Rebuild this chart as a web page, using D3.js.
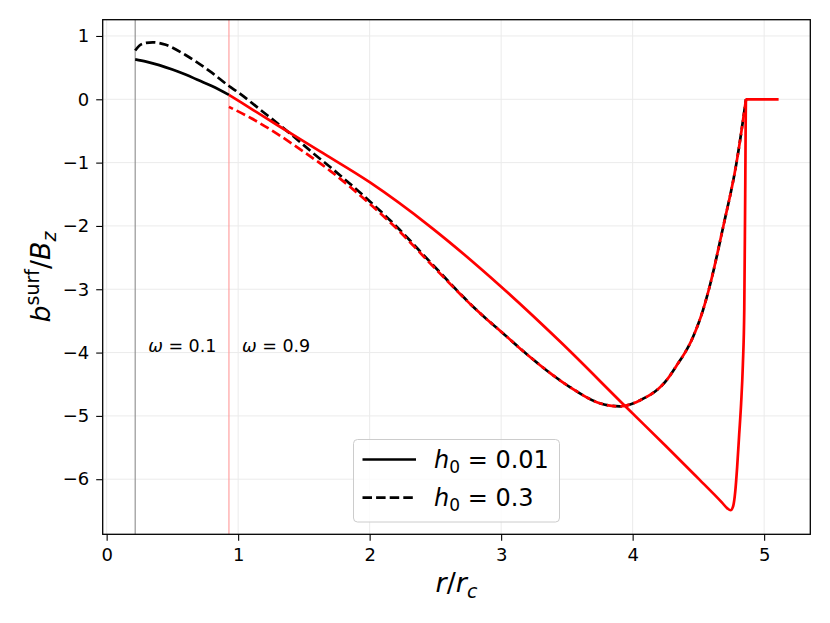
<!DOCTYPE html>
<html>
<head>
<meta charset="utf-8">
<script src="https://cdn.jsdelivr.net/npm/d3@7"></script>
<style>
  body { margin: 0; background: #fff; }
  text { font-family: "DejaVu Sans", sans-serif; }
</style>
</head>
<body>
<svg id="chart"></svg>
<script>
// b^surf / B_z against r / r_c
const blackSolid = [ // omega = 0.1, h0 = 0.01
  [0.217, 0.63], [0.3, 0.595], [0.4, 0.54], [0.5, 0.47], [0.6, 0.39],
  [0.7, 0.30], [0.8, 0.21], [0.93, 0.07]
];
const blackDashed = [ // omega = 0.1, h0 = 0.3
  [0.217, 0.77], [0.25, 0.85], [0.3, 0.89], [0.35, 0.90], [0.45, 0.86],
  [0.6, 0.70], [0.8, 0.42], [0.93, 0.21], [1.0, 0.11], [1.19, -0.20],
  [1.4, -0.55], [1.57, -0.85], [1.7, -1.07], [2.0, -1.61], [2.2, -2.0],
  [2.46, -2.57], [2.84, -3.38], [3.0, -3.67], [3.22, -4.07], [3.52, -4.54],
  [3.75, -4.80], [3.9, -4.85], [4.05, -4.76], [4.26, -4.43], [4.33, -4.22],
  [4.46, -3.75], [4.535, -3.33], [4.58, -3.0], [4.69, -2.0], [4.79, -1.0],
  [4.862, 0]
];
const redSolid = [ // omega = 0.9, h0 = 0.01
  [0.93, 0.07], [1.115, -0.17], [1.3, -0.41], [1.62, -0.82], [2.0, -1.31],
  [2.46, -2.01], [3.0, -2.96], [3.45, -3.83], [3.95, -4.86], [4.26, -5.49],
  [4.51, -6.01], [4.62, -6.24], [4.68, -6.37], [4.72, -6.46], [4.745, -6.49],
  [4.765, -6.42], [4.78, -6.2], [4.795, -5.8], [4.81, -5.3], [4.825, -4.8],
  [4.838, -4.2], [4.849, -3.3], [4.856, -1.5], [4.862, 0], [5.11, 0]
];
const redDashed = [ // omega = 0.9, h0 = 0.3
  [0.93, -0.12], [1.1, -0.30], [1.3, -0.55], [1.5, -0.83], [1.7, -1.13],
  [2.0, -1.65], [2.2, -2.03], [2.46, -2.59], [2.84, -3.38], [3.0, -3.67],
  [3.22, -4.07], [3.52, -4.54], [3.75, -4.80], [3.9, -4.85], [4.05, -4.76],
  [4.26, -4.43], [4.33, -4.22], [4.46, -3.75], [4.535, -3.33], [4.58, -3.0],
  [4.69, -2.0], [4.79, -1.0], [4.862, 0]
];
const omegaLines = [0.217, 0.93];
const omegaLabels = ['0.1', '0.9'];
const xTicks = [0, 1, 2, 3, 4, 5];
const yTicks = [1, 0, -1, -2, -3, -4, -5, -6];
const legendLabels = ['0.01', '0.3'];

const W = 830, H = 623;
const m = { left: 102.7, right: 810.3, top: 19.7, bottom: 534.3 };

const svg = d3.select('#chart').attr('width', W).attr('height', H);

const x = d3.scaleLinear().domain([-0.03, 5.351]).range([m.left, m.right]);
const y = d3.scaleLinear().domain([-6.87, 1.257]).range([m.bottom, m.top]);

// grid
const grid = svg.append('g');
grid.selectAll('line.gx').data(xTicks).enter().append('line')
  .attr('x1', d => x(d)).attr('x2', d => x(d))
  .attr('y1', m.top).attr('y2', m.bottom)
  .attr('stroke', '#ebebeb').attr('stroke-width', 1);
grid.selectAll('line.gy').data(yTicks).enter().append('line')
  .attr('y1', d => y(d)).attr('y2', d => y(d))
  .attr('x1', m.left).attr('x2', m.right)
  .attr('stroke', '#ebebeb').attr('stroke-width', 1);

// omega markers
svg.selectAll('line.omega').data(omegaLines).enter().append('line')
  .attr('x1', d => x(d)).attr('x2', d => x(d))
  .attr('y1', m.top).attr('y2', m.bottom)
  .attr('stroke', (d, i) => i === 0 ? '#8c8c8c' : '#ff9a9a')
  .attr('stroke-width', 1.1);

const line = d3.line()
  .x(d => x(d[0])).y(d => y(d[1]))
  .curve(d3.curveMonotoneX);

const series = [
  { data: blackSolid, color: '#000', dash: null, offset: 0 },
  { data: blackDashed, color: '#000', dash: '9.5,4.1', offset: 0 },
  { data: redSolid, color: '#ff0000', dash: null, offset: 0 },
  { data: redDashed, color: '#ff0000', dash: '9.5,4.1', offset: 5 }
];
const plot = svg.append('g');
series.forEach(s => {
  plot.append('path').datum(s.data)
    .attr('d', line)
    .attr('fill', 'none')
    .attr('stroke', s.color)
    .attr('stroke-width', 2.7)
    .attr('stroke-dasharray', s.dash)
    .attr('stroke-dashoffset', s.offset);
});

// omega annotations
const ann = svg.append('g');
omegaLabels.forEach((lab, i) => {
  const t = ann.append('text')
    .attr('x', x(omegaLines[i]) + 13).attr('y', 352)
    .attr('font-size', 17.5);
  t.append('tspan').attr('font-style', 'italic').text('ω');
  t.append('tspan').text(' = ' + lab);
});

// axes
const xAxis = d3.axisBottom(x).tickValues(xTicks).tickSize(6.5).tickPadding(7).tickFormat(d3.format('d'));
const yAxis = d3.axisLeft(y).tickValues(yTicks).tickSize(6.5).tickPadding(7).tickFormat(d3.format('d'));
const gx = svg.append('g').attr('transform', `translate(0,${m.bottom})`).call(xAxis);
const gy = svg.append('g').attr('transform', `translate(${m.left},0)`).call(yAxis);
[gx, gy].forEach(g => {
  g.attr('font-size', 18).attr('font-family', '"DejaVu Sans", sans-serif');
  g.select('.domain').remove();
  g.selectAll('.tick line').attr('stroke', '#000').attr('stroke-width', 1.1);
  g.selectAll('.tick text').attr('fill', '#000');
});

svg.append('rect')
  .attr('x', m.left).attr('y', m.top)
  .attr('width', m.right - m.left).attr('height', m.bottom - m.top)
  .attr('fill', 'none').attr('stroke', '#000').attr('stroke-width', 1.3);

// axis labels
const xl = svg.append('text')
  .attr('x', (m.left + m.right) / 2).attr('y', 592)
  .attr('text-anchor', 'middle').attr('font-size', 27);
xl.append('tspan').attr('font-style', 'italic').text('r');
xl.append('tspan').text('/');
xl.append('tspan').attr('font-style', 'italic').text('r');
xl.append('tspan').attr('font-style', 'italic').attr('font-size', 19).attr('dy', 6).text('c');

const yl = svg.append('text')
  .attr('transform', `translate(49.5,${(m.top + m.bottom) / 2}) rotate(-90)`)
  .attr('text-anchor', 'middle').attr('font-size', 27);
yl.append('tspan').attr('font-style', 'italic').text('b');
yl.append('tspan').attr('font-size', 19).attr('dy', -11).text('surf');
yl.append('tspan').attr('dy', 11).text('/');
yl.append('tspan').attr('font-style', 'italic').text('B');
yl.append('tspan').attr('font-style', 'italic').attr('font-size', 19).attr('dy', 6).text('z');

// legend
const lg = svg.append('g');
lg.append('rect')
  .attr('x', 353.5).attr('y', 439.5).attr('width', 206).attr('height', 82.5)
  .attr('rx', 4).attr('fill', '#fff').attr('fill-opacity', 0.8)
  .attr('stroke', '#cccccc').attr('stroke-width', 1);
legendLabels.forEach((lab, i) => {
  const ly = 459.5 + i * 38.2;
  lg.append('line')
    .attr('x1', 362.5).attr('x2', 416).attr('y1', ly).attr('y2', ly)
    .attr('stroke', '#000').attr('stroke-width', 2.7)
    .attr('stroke-dasharray', i === 1 ? '9.5,4.1' : null);
  const t = lg.append('text')
    .attr('x', 434).attr('y', ly + 8.5).attr('font-size', 24);
  t.append('tspan').attr('font-style', 'italic').text('h');
  t.append('tspan').attr('font-size', 17).attr('dy', 5).text('0');
  t.append('tspan').attr('dy', -5).text(' = ' + lab);
});
</script>
</body>
</html>
